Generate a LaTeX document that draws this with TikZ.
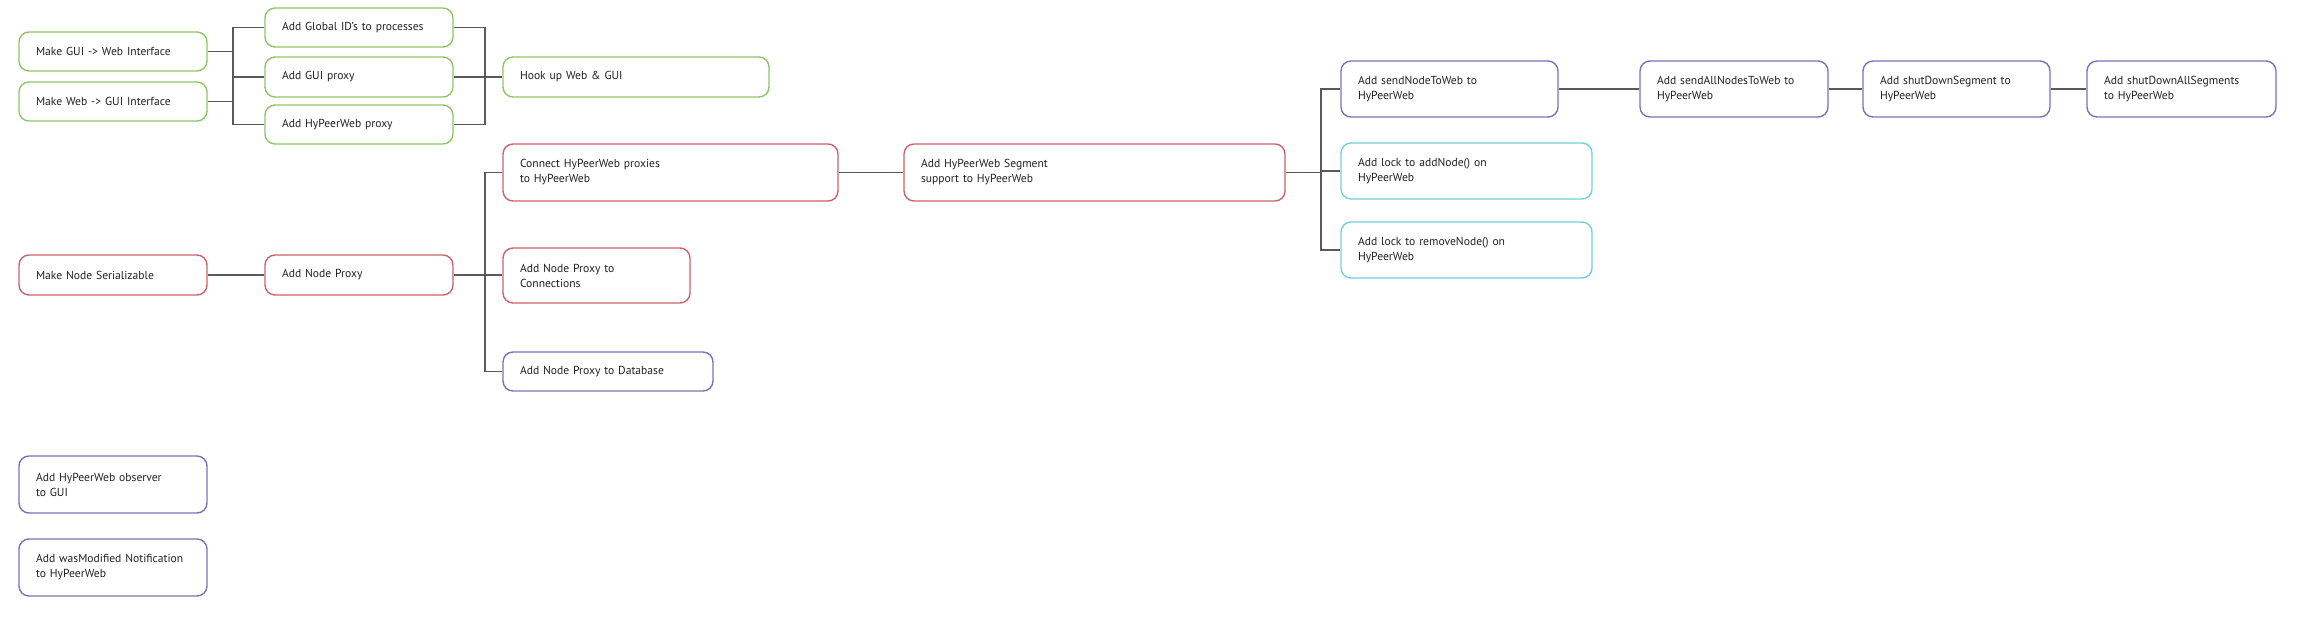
\documentclass[tikz,border=0pt]{standalone}
\usepackage{fontspec}
\setmainfont[WordSpace=0.8]{PT Sans}
\hyphenpenalty=10000
\exhyphenpenalty=10000
\definecolor{grn}{HTML}{8DC665}
\definecolor{rd}{HTML}{C9646C}
\definecolor{prp}{HTML}{7C70B8}
\definecolor{cyn}{HTML}{72D0DC}
\definecolor{txt}{HTML}{231F20}
\definecolor{ln}{HTML}{595959}
\tikzset{
  task/.style={draw, rounded corners=10pt, line width=1.4pt, align=left,
    inner xsep=17pt, inner ysep=0pt, text=txt,
    font=\fontsize{11.6}{15}\selectfont},
  conn/.style={draw=ln, line width=1.9pt}
}
% \taskbox{name}{x1}{y1}{x2}{y2}{color}{text}
\newcommand{\taskbox}[7]{%
  \pgfmathsetmacro{\tw}{#4-#2}%
  \pgfmathsetmacro{\th}{#5-#3}%
  \pgfmathsetmacro{\tcx}{(#2+#4)/2}%
  \pgfmathsetmacro{\tcy}{(#3+#5)/2}%
  \pgfmathsetmacro{\ttw}{#4-#2-34}%
  \node[task, draw=#6, minimum width=\tw pt, minimum height=\th pt, text width=\ttw pt] (#1) at (\tcx,\tcy) {#7};%
}
\begin{document}
\begin{tikzpicture}[x=1pt,y=-1pt]
\useasboundingbox (0,0) rectangle (2307,629);
% left group
\taskbox{mgw}{19}{32}{207}{71}{grn}{Make GUI -> Web Interface}
\taskbox{mwg}{19}{82}{207}{121}{grn}{Make Web -> GUI Interface}
\taskbox{gid}{265}{8}{453}{47}{grn}{Add Global ID’s to processes}
\taskbox{gui}{265}{57}{453}{97}{grn}{Add GUI proxy}
\taskbox{hpp}{265}{105}{453}{144}{grn}{Add HyPeerWeb proxy}
\taskbox{hook}{503}{57}{769}{97}{grn}{Hook up Web \& GUI}
% node proxy group
\taskbox{mns}{19}{255}{207}{295}{rd}{Make Node Serializable}
\taskbox{anp}{265}{255}{453}{295}{rd}{Add Node Proxy}
\taskbox{chp}{503}{144}{838}{201}{rd}{Connect HyPeerWeb proxies\\to HyPeerWeb}
\taskbox{anc}{503}{248}{690}{303}{rd}{Add Node Proxy to\\Connections}
\taskbox{anpd}{503}{352}{713}{391}{prp}{Add Node Proxy to Database}
\taskbox{seg}{904}{144}{1285}{201}{rd}{Add HyPeerWeb Segment\\support to HyPeerWeb}
% right group
\taskbox{snw}{1341}{61}{1558}{117}{prp}{Add sendNodeToWeb to\\HyPeerWeb}
\taskbox{lad}{1341}{143}{1592}{199}{cyn}{Add lock to addNode() on\\HyPeerWeb}
\taskbox{lrm}{1341}{222}{1592}{278}{cyn}{Add lock to removeNode() on\\HyPeerWeb}
\taskbox{sanw}{1640}{61}{1828}{117}{prp}{Add sendAllNodesToWeb to\\HyPeerWeb}
\taskbox{sds}{1863}{61}{2050}{117}{prp}{Add shutDownSegment to\\HyPeerWeb}
\taskbox{sdas}{2087}{61}{2276}{117}{prp}{Add shutDownAllSegments\\to HyPeerWeb}
% bottom
\taskbox{obs}{19}{456}{207}{513}{prp}{Add HyPeerWeb observer\\to GUI}
\taskbox{wmn}{19}{539}{207}{596}{prp}{Add wasModified Notification\\to HyPeerWeb}
% junction coordinates
\coordinate (j1) at (233,0);
\coordinate (j2) at (485,0);
\coordinate (j4) at (1321,0);
% connectors
\draw[conn] (mgw.east) -- (mgw.east -| j1);
\draw[conn] (mwg.east) -- (mwg.east -| j1);
\draw[conn] (gid.west) -- (gid.west -| j1) -- (hpp.west -| j1) -- (hpp.west);
\draw[conn] (gui.west -| j1) -- (gui.west);
\draw[conn] (gid.east) -- (gid.east -| j2) -- (hpp.east -| j2) -- (hpp.east);
\draw[conn] (gui.east) -- (hook.west);
\draw[conn] (mns.east) -- (anp.west);
\draw[conn] (anp.east) -- (anp.east -| anc.west);
\draw[conn] (chp.west) -- (chp.west -| j2) -- (anpd.west -| j2) -- (anpd.west);
\draw[conn] (chp.east) -- (seg.west);
\draw[conn] (seg.east) -- (seg.east -| j4);
\draw[conn] (snw.west) -- (snw.west -| j4) -- (lrm.west -| j4) -- (lrm.west);
\draw[conn] (lad.west -| j4) -- (lad.west);
\draw[conn] (snw.east) -- (sanw.west);
\draw[conn] (sanw.east) -- (sds.west);
\draw[conn] (sds.east) -- (sdas.west);
\end{tikzpicture}
\end{document}
